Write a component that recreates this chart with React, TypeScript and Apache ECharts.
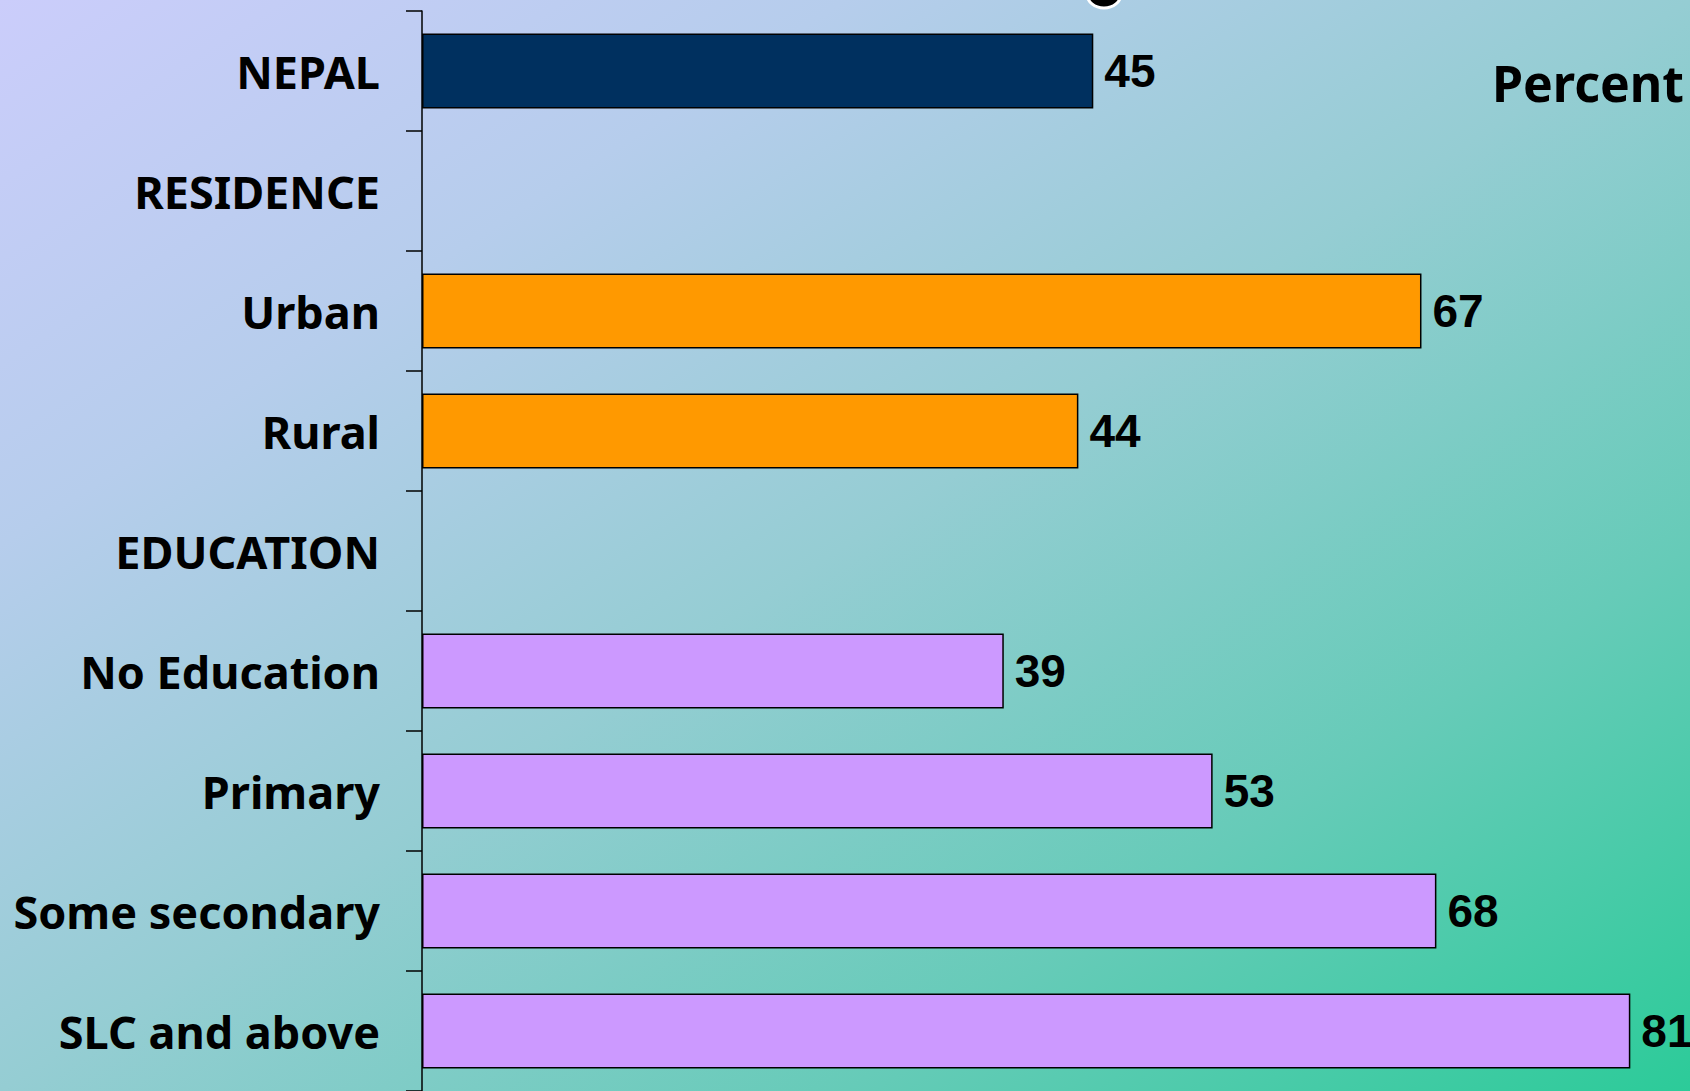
import React, { useEffect, useRef } from "react";
import * as echarts from "echarts";

const categories = [
  "NEPAL",
  "RESIDENCE",
  "Urban",
  "Rural",
  "EDUCATION",
  "No Education",
  "Primary",
  "Some secondary",
  "SLC and above",
];
const values: (number | null)[] = [45, null, 67, 44, null, 39, 53, 68, 81];
const groupColors = ["#00305f", null, "#ff9900", "#ff9900", null, "#cc99ff", "#cc99ff", "#cc99ff", "#cc99ff"];
const unitLabel = "Percent";

export default function App() {
  const ref = useRef<HTMLDivElement>(null);
  useEffect(() => {
    if (!ref.current) return;
    const chart = echarts.init(ref.current, undefined, { renderer: "svg" });
    chart.setOption({
      animation: false,
      backgroundColor: new echarts.graphic.LinearGradient(
        0,
        0,
        994,
        1540,
        [
          { offset: 0, color: "#cbcdfb" },
          { offset: 0.25, color: "#b6cdec" },
          { offset: 0.5, color: "#95cdd3" },
          { offset: 0.75, color: "#66cbb8" },
          { offset: 1, color: "#2ccb99" },
        ],
        true
      ),
      grid: { left: 422, top: 11, width: 1268, height: 1083 },
      xAxis: {
        type: "value",
        min: 0,
        max: 85,
        show: false,
      },
      yAxis: {
        type: "category",
        inverse: true,
        data: categories,
        axisLine: { show: true, lineStyle: { color: "#000", width: 1.5 } },
        axisTick: { show: true, length: 16, inside: false, lineStyle: { color: "#000", width: 1.5 } },
        axisLabel: {
          margin: 42,
          color: "#000",
          fontFamily: "'Noto Sans', 'DejaVu Sans', sans-serif",
          fontWeight: "bold",
          fontSize: 45,
        },
        splitLine: { show: false },
      },
      graphic: [
        {
          type: "text",
          right: 6,
          top: 58,
          style: {
            text: unitLabel,
            fill: "#000",
            font: "bold 50px 'Noto Sans', 'DejaVu Sans', sans-serif",
          },
        },
        {
          type: "ellipse",
          shape: { cx: 1104, cy: -6, rx: 17, ry: 14 },
          style: { fill: "#000", stroke: "#fff", lineWidth: 3 },
          z: 10,
        },
      ],
      series: [
        {
          type: "bar",
          barWidth: 75,
          data: values.map((v, i) => ({
            value: v,
            itemStyle: { color: groupColors[i] || "transparent", borderColor: "#000", borderWidth: 1.5 },
          })),
          label: {
            show: true,
            position: "right",
            distance: 11,
            color: "#000",
            fontFamily: "'Liberation Sans Narrow', 'Liberation Sans', Arial, sans-serif",
            fontWeight: "bold",
            fontSize: 46,
          },
        },
      ],
    });
    return () => chart.dispose();
  }, []);
  return <div ref={ref} style={{ width: 1690, height: 1091, position: "fixed", left: 0, top: 0 }} />;
}
